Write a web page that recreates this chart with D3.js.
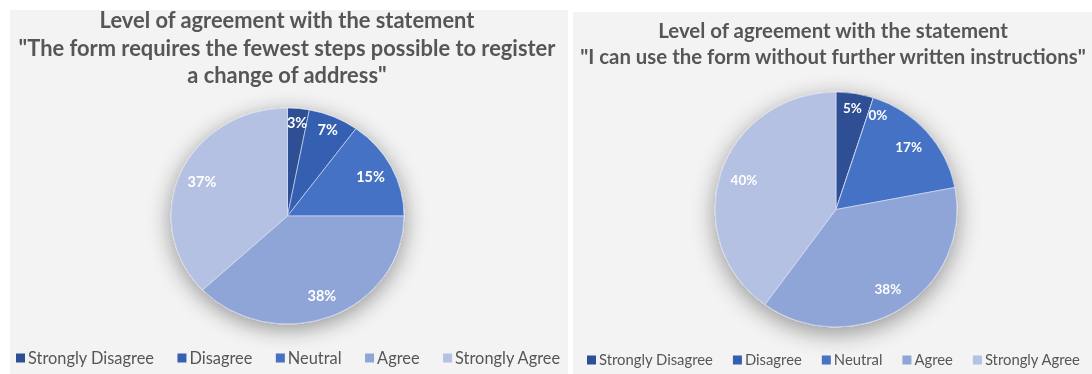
<!DOCTYPE html>
<html>
<head>
<meta charset="utf-8">
<script src="https://cdn.jsdelivr.net/npm/d3@7"></script>
<style>
  html, body { margin: 0; padding: 0; background: #ffffff; }
  svg { display: block; }
</style>
</head>
<body>
<svg id="chart" width="1092" height="374"></svg>
<script>
// Survey response categories, shared by both pies
const categories = ["Strongly Disagree", "Disagree", "Neutral", "Agree", "Strongly Agree"];

// Share of respondents (%) per category
const stepsValues = [3, 7, 15, 38, 37];
const instructionsValues = [5, 0, 17, 38, 40];

// Chart titles, one line per entry
const stepsTitle = [
  "Level of agreement with the statement",
  "\"The form requires the fewest steps possible to register",
  "a change of address\""
];
const instructionsTitle = [
  "Level of agreement with the statement",
  "\"I can use the form without further written instructions\""
];

const colors = ["#2d4f93", "#3561b2", "#4472c4", "#8fa5d8", "#b5c1e3"];
const textGray = "#565656";
const font = "Lato, 'Open Sans', sans-serif";

const svg = d3.select("#chart");
const defs = svg.append("defs");

const shadow = defs.append("filter").attr("id", "pieShadow")
  .attr("x", "-30%").attr("y", "-30%").attr("width", "160%").attr("height", "160%");
shadow.append("feGaussianBlur").attr("in", "SourceAlpha").attr("stdDeviation", 10).attr("result", "b");
shadow.append("feOffset").attr("in", "b").attr("dx", 0).attr("dy", 5).attr("result", "o");
shadow.append("feComponentTransfer").attr("in", "o").attr("result", "s")
  .append("feFuncA").attr("type", "linear").attr("slope", 0.4);
const merge = shadow.append("feMerge");
merge.append("feMergeNode").attr("in", "s");
merge.append("feMergeNode").attr("in", "SourceGraphic");

const soft = defs.append("filter").attr("id", "soft");
soft.append("feGaussianBlur").attr("stdDeviation", 0.45);

const colorScale = d3.scaleOrdinal().domain(categories).range(colors);

function panel(cfg) {
  const g = svg.append("g");

  g.append("rect")
    .attr("x", cfg.box[0]).attr("y", cfg.box[1])
    .attr("width", cfg.box[2]).attr("height", cfg.box[3])
    .attr("fill", "#f3f3f3");

  // Title, sized so the longest line spans the given width
  const title = g.append("g").attr("filter", "url(#soft)");
  const lines = title.selectAll("text").data(cfg.title).join("text")
    .attr("x", cfg.titleX)
    .attr("y", (d, i) => cfg.titleY + i * cfg.titleStep)
    .attr("text-anchor", "middle")
    .attr("font-family", font)
    .attr("font-weight", 700)
    .attr("font-size", 18)
    .attr("fill", textGray)
    .text(d => d);
  const widest = d3.max(lines.nodes(), n => n.getComputedTextLength());
  lines.attr("font-size", 18 * cfg.titleWidth / widest);

  // Pie, drawn on a unit radius then stretched to the ellipse
  const R = 100;
  const pie = d3.pie().sort(null).value(d => d.value);
  const arcs = pie(categories.map((c, i) => ({ cat: c, value: cfg.values[i] })));
  const arc = d3.arc().innerRadius(0).outerRadius(R);

  const pieG = g.append("g")
    .attr("transform", `translate(${cfg.cx},${cfg.cy}) scale(${cfg.rx / R},${cfg.ry / R})`)
    .attr("filter", "url(#pieShadow)");
  pieG.selectAll("path").data(arcs).join("path")
    .attr("d", arc)
    .attr("fill", d => colorScale(d.data.cat))
    .attr("stroke", "#dfe5f3")
    .attr("stroke-width", 0.6)
    .attr("vector-effect", "non-scaling-stroke");

  // Percentage labels inside each slice; an empty slice's label sits beside it
  const labelG = g.append("g").attr("filter", "url(#soft)");
  labelG.selectAll("text").data(arcs).join("text")
    .attr("transform", d => {
      const f = d.data.value < 10 ? 0.87 : 0.8;
      const a = (d.startAngle + d.endAngle) / 2;
      const x = cfg.cx + Math.sin(a) * cfg.rx * f;
      const y = cfg.cy - Math.cos(a) * cfg.ry * f;
      return `translate(${x},${y})`;
    })
    .attr("text-anchor", d => d.data.value === 0 ? "start" : "middle")
    .attr("dy", d => d.data.value === 0 ? "0.6em" : "0.35em")
    .attr("font-family", font)
    .attr("font-weight", 700)
    .attr("font-size", cfg.labelSize)
    .attr("fill", "#ffffff")
    .text(d => d.data.value + "%");

  // Legend row
  const leg = g.append("g").attr("filter", "url(#soft)");
  const items = leg.selectAll("g").data(categories).join("g");
  items.append("text")
    .attr("font-family", font)
    .attr("font-size", 13)
    .attr("fill", textGray)
    .attr("dy", "0.35em")
    .text(d => d);
  const first = items.select("text").node().getComputedTextLength();
  const fs = 13 * cfg.legendFirstWidth / first;
  items.select("text").attr("font-size", fs);
  let x = cfg.legendX;
  items.each(function (d) {
    const it = d3.select(this);
    const w = it.select("text").node().getComputedTextLength();
    it.attr("transform", `translate(${x},${cfg.legendY})`);
    it.insert("rect", "text")
      .attr("x", 0).attr("y", -4.5).attr("width", 9).attr("height", 9)
      .attr("fill", colorScale(d));
    it.select("text").attr("x", 12);
    x += 12 + w + cfg.legendGap;
  });
}

panel({
  box: [10, 10, 558, 364],
  values: stepsValues,
  title: stepsTitle,
  titleX: 287, titleY: 28, titleStep: 27.5, titleWidth: 537,
  cx: 287.5, cy: 216, rx: 116.5, ry: 108,
  labelSize: 14.5,
  legendX: 16, legendY: 358, legendFirstWidth: 126, legendGap: 23.5
});

panel({
  box: [573, 12, 519, 362],
  values: instructionsValues,
  title: instructionsTitle,
  titleX: 833, titleY: 38, titleStep: 26, titleWidth: 506,
  cx: 836, cy: 209.5, rx: 121, ry: 117.5,
  labelSize: 13.5,
  legendX: 587, legendY: 360, legendFirstWidth: 114, legendGap: 20
});
</script>
</body>
</html>
